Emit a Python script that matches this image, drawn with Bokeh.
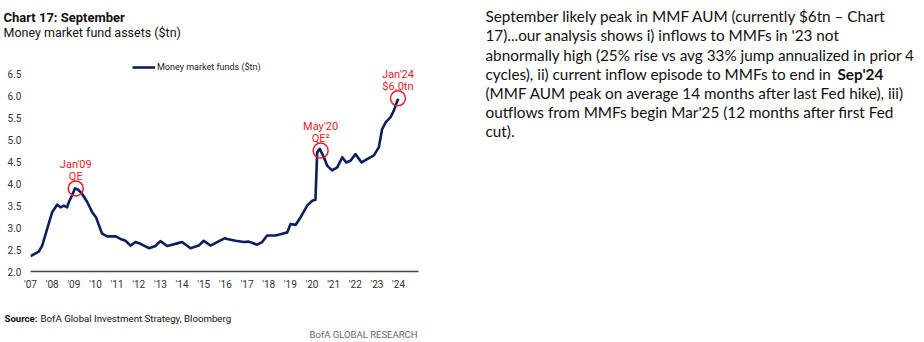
from bokeh.plotting import figure
from bokeh.layouts import column, row
from bokeh.models import FixedTicker, Legend, LegendItem, ColumnDataSource
from bokeh.core.properties import value
from bokeh.embed import file_html
from bokeh.resources import INLINE

# ---- data (decimal years, $tn) ----
dates = [2007.00, 2007.38, 2007.54, 2007.77, 2008.00, 2008.23, 2008.39, 2008.54, 2008.69, 2008.77,
         2008.92, 2009.05, 2009.20, 2009.38, 2009.62, 2009.85, 2010.03, 2010.16, 2010.31, 2010.54,
         2010.93, 2011.16, 2011.39, 2011.62, 2011.85, 2012.08, 2012.47, 2012.77, 2013.00, 2013.31,
         2013.78, 2014.00, 2014.39, 2014.77, 2015.00, 2015.31, 2015.62, 2015.98, 2016.08, 2016.47,
         2016.85, 2017.08, 2017.47, 2017.70, 2017.93, 2018.32, 2018.63, 2018.86, 2019.01, 2019.24,
         2019.47, 2019.78, 2020.01, 2020.16, 2020.24, 2020.36, 2020.55, 2020.70, 2020.93, 2021.17,
         2021.40, 2021.58, 2021.78, 2022.01, 2022.29, 2022.63, 2022.86, 2023.09, 2023.24, 2023.40,
         2023.63, 2023.78, 2023.98]
mmf_assets = [2.35, 2.45, 2.59, 2.97, 3.35, 3.52, 3.46, 3.50, 3.46, 3.58,
              3.73, 3.89, 3.86, 3.77, 3.58, 3.35, 3.23, 3.05, 2.86, 2.80,
              2.80, 2.74, 2.70, 2.59, 2.67, 2.63, 2.53, 2.58, 2.69, 2.58,
              2.64, 2.67, 2.53, 2.59, 2.70, 2.59, 2.67, 2.76, 2.74, 2.70,
              2.67, 2.68, 2.61, 2.67, 2.82, 2.82, 2.86, 2.89, 3.08, 3.06,
              3.23, 3.50, 3.61, 3.63, 4.71, 4.79, 4.60, 4.41, 4.30, 4.37,
              4.60, 4.48, 4.52, 4.67, 4.48, 4.58, 4.64, 4.83, 5.24, 5.39,
              5.51, 5.66, 5.93]

x_tick_years = list(range(2007, 2025))
x_tick_labels = ["'07", "'08", "'09", "'10", "'11", "'12", "'13", "'14", "'15",
                 "'16", "'17", "'18", "'19", "'20", "'21", "'22", "'23", "'24"]
y_ticks = [2.0, 2.5, 3.0, 3.5, 4.0, 4.5, 5.0, 5.5, 6.0, 6.5]
y_tick_labels = ["2.0", "2.5", "3.0", "3.5", "4.0", "4.5", "5.0", "5.5", "6.0", "6.5"]

ann_dates = [2009.09, 2020.40, 2023.97]
ann_values = [3.89, 4.75, 5.94]
ann_line1 = ["Jan'09", "May'20", "Jan'24"]
ann_line2 = ["QE", "QE\u00b2", "$6.0tn"]

title_text = "Chart 17: September"
subtitle_text = "Money market fund assets ($tn)"
source_bold = "Source:"
source_text = "BofA Global Investment Strategy, Bloomberg"
brand_text = "BofA GLOBAL RESEARCH"

para_lines = [
    "September likely peak in MMF AUM (currently $6tn \u2013 Chart",
    "17)...our analysis shows i) inflows to MMFs in '23 not",
    "abnormally high (25% rise vs avg 33% jump annualized in prior 4",
    "cycles), ii) current inflow episode to MMFs to end in",
    "(MMF AUM peak on average 14 months after last Fed hike), iii)",
    "outflows from MMFs begin Mar'25 (12 months after first Fed",
    "cut).",
]
para_bold = "Sep'24"

NAVY = "#0b1f5e"
RED = "#ee1c25"
FONT = "Roboto"
PFONT = "Lato"


def text_fig(w, h):
    f = figure(width=w, height=h, x_range=(0, w), y_range=(h, 0), output_backend="svg",
               toolbar_location=None, min_border=0, x_axis_type=None, y_axis_type=None)
    f.outline_line_color = None
    f.xgrid.visible = False
    f.ygrid.visible = False
    f.background_fill_color = "white"
    f.border_fill_color = "white"
    return f


def put(f, x, y, text, size, bold=False, color="#111111", align="left", font=FONT):
    f.text(x=[x], y=[y], text=[text], text_font=value(font), text_font_size=size,
           text_color=color, text_font_style="bold" if bold else "normal",
           text_align=align, text_baseline="alphabetic")


# ---- header (canvas y 0..45) ----
header = text_fig(460, 45)
put(header, 3, 17, title_text, "13px", bold=True)
put(header, 3, 32, subtitle_text, "12.5px")

# ---- chart (canvas y 45..300); frame: x 30..418, y 60..271 ----
p = figure(width=460, height=255, output_backend="svg", toolbar_location=None,
           x_range=(2007.0, 2024.92), y_range=(2.0, 6.8),
           min_border_left=30, min_border_right=42, min_border_top=15, min_border_bottom=29)
p.outline_line_color = None
p.xgrid.grid_line_color = None
p.ygrid.grid_line_color = None
p.background_fill_color = "white"
p.border_fill_color = "white"

p.xaxis.ticker = FixedTicker(ticks=x_tick_years)
p.xaxis.major_label_overrides = {y: l for y, l in zip(x_tick_years, x_tick_labels)}
p.xaxis.axis_line_color = "#444444"
p.xaxis.axis_line_width = 1.5
p.xaxis.major_tick_line_color = None
p.xaxis.minor_tick_line_color = None
p.xaxis.major_tick_out = 0
p.xaxis.minor_tick_out = 0
p.xaxis.major_label_standoff = 7
p.xaxis.major_label_text_font = FONT
p.xaxis.major_label_text_font_size = "10px"
p.xaxis.major_label_text_color = "#333333"

p.yaxis.ticker = FixedTicker(ticks=y_ticks)
p.yaxis.major_label_overrides = {t: l for t, l in zip(y_ticks, y_tick_labels)}
p.yaxis.axis_line_color = None
p.yaxis.major_tick_line_color = None
p.yaxis.minor_tick_line_color = None
p.yaxis.major_tick_out = 0
p.yaxis.minor_tick_out = 0
p.yaxis.major_label_standoff = 9
p.yaxis.major_label_text_font = FONT
p.yaxis.major_label_text_font_size = "10px"
p.yaxis.major_label_text_color = "#333333"

line = p.line(dates, mmf_assets, line_color=NAVY, line_width=2.6, line_join="round")

legend = Legend(items=[LegendItem(label="Money market funds ($tn)", renderers=[line])],
                location=(102, 198), padding=0, margin=0, spacing=0,
                glyph_width=23, glyph_height=12, label_height=12, label_standoff=2,
                label_text_font=FONT, label_text_font_size="9px", label_text_color="#222222",
                border_line_color=None, background_fill_alpha=0)
p.add_layout(legend)

src = ColumnDataSource(dict(x=ann_dates, y=ann_values, l1=ann_line1, l2=ann_line2))
p.scatter("x", "y", source=src, marker="circle", size=15, fill_color=None,
          line_color=RED, line_width=1.5)
p.text("x", "y", text="l1", source=src, y_offset=-24, text_align="center",
       text_baseline="alphabetic", text_font=value(FONT), text_font_size="11px", text_color=RED)
p.text("x", "y", text="l2", source=src, y_offset=-12, text_align="center",
       text_baseline="alphabetic", text_font=value(FONT), text_font_size="11px", text_color=RED)

# ---- footer (canvas y 300..342) ----
footer = text_fig(460, 42)
put(footer, 4, 18, source_bold, "9.6px", bold=True)
put(footer, 40, 18, source_text, "9.7px")
put(footer, 417, 34, brand_text, "9.5px", color="#666666", align="right")

# ---- right paragraph (canvas x 460..924) ----
para = text_fig(464, 342)
for i, t in enumerate(para_lines):
    put(para, 25, 15.7 + 19.2 * i, t, "15.3px", font=PFONT)
put(para, 377, 15.7 + 19.2 * 3, para_bold, "15.3px", bold=True, font=PFONT)

left = column(row(header, spacing=0), p, row(footer, spacing=0), spacing=0)
layout = row(left, para, spacing=0)
open("out.html", "w").write(file_html(layout, INLINE))
